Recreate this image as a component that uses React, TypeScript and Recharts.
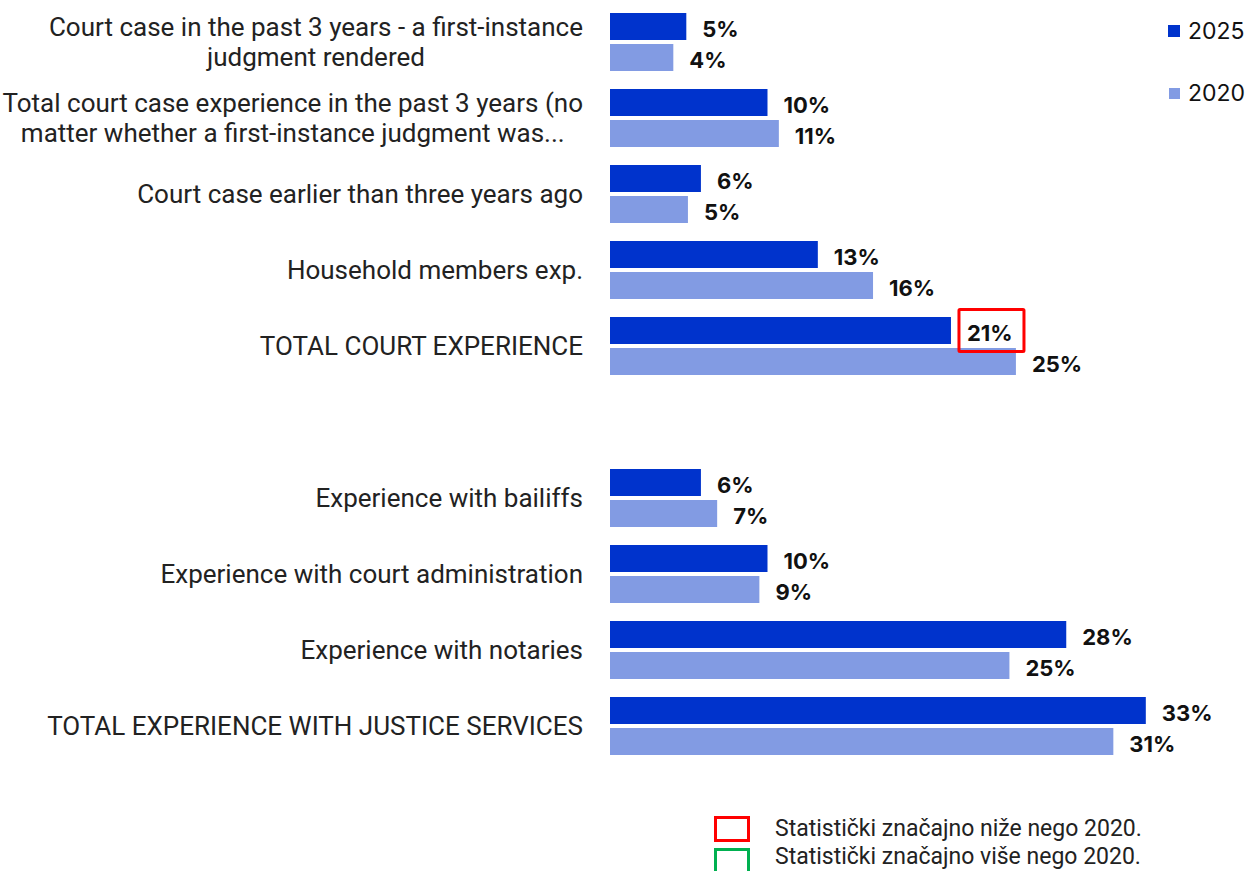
import React from "react";
import { BarChart, Bar, XAxis, YAxis, LabelList } from "recharts";

// ─── DATA ────────────────────────────────────────────────────────────────────

const categories = [
  "Court case in the past 3 years - a first-instance\njudgment rendered",
  "Total court case experience in the past 3 years (no\nmatter whether a first-instance judgment was...",
  "Court case earlier than three years ago",
  "Household members exp.",
  "TOTAL COURT EXPERIENCE",
  "",
  "Experience with bailiffs",
  "Experience with court administration",
  "Experience with notaries",
  "TOTAL EXPERIENCE WITH JUSTICE SERVICES",
];

const values2025 = [4.7, 9.7, 5.6, 12.8, 21.0, null, 5.6, 9.7, 28.1, 33.0];
const values2020 = [3.9, 10.4, 4.8, 16.2, 25.0, null, 6.6, 9.2, 24.6, 31.0];

const labels2025 = [5, 10, 6, 13, 21, null, 6, 10, 28, 33];
const labels2020 = [4, 11, 5, 16, 25, null, 7, 9, 25, 31];

// kategori 2025 yang signifikan lebih rendah dari 2020
const lower2025 = [false, false, false, false, true, false, false, false, false, false];

const COLOR_2025 = "#0033cc";
const COLOR_2020 = "#829be3";
const FONT = "Inter, Roboto, sans-serif";
const TICK_FONT = "Roboto, 'Noto Sans', sans-serif";
const TICK_FONT_SIZE = 26;

const data = categories.map((name, i) => ({
  name,
  v2025: values2025[i],
  v2020: values2020[i],
  l2025: labels2025[i] == null ? null : `${labels2025[i]}%${lower2025[i] ? "*" : ""}`,
  l2020: labels2020[i] == null ? null : `${labels2020[i]}%`,
}));

// ─── HELPERS ─────────────────────────────────────────────────────────────────

let ctx: CanvasRenderingContext2D | null = null;
function measure(text: string, font: string) {
  if (!ctx) ctx = document.createElement("canvas").getContext("2d");
  if (!ctx) return text.length * 10;
  ctx.font = font;
  return ctx.measureText(text).width;
}

function CategoryTick(props: any) {
  const { x, y, payload } = props;
  if (!payload.value) return null;
  const lines: string[] = String(payload.value).split("\n");
  if (lines.length === 1) {
    return (
      <text x={x} y={y} textAnchor="end" dominantBaseline="central" fill="#222" fontSize={TICK_FONT_SIZE} fontFamily={TICK_FONT}>
        {lines[0]}
      </text>
    );
  }
  const maxW = Math.max(...lines.map((l) => measure(l, `${TICK_FONT_SIZE}px Roboto`)));
  const cx = x - maxW / 2;
  const lh = 30;
  const startY = y - ((lines.length - 1) * lh) / 2;
  return (
    <text textAnchor="middle" fill="#222" fontSize={TICK_FONT_SIZE} fontFamily={TICK_FONT}>
      {lines.map((l, i) => (
        <tspan key={i} x={cx} y={startY + i * lh} dominantBaseline="central">
          {l}
        </tspan>
      ))}
    </text>
  );
}

function ValueLabel(props: any) {
  const { x, y, width, height, value } = props;
  if (value == null) return null;
  const txt = String(value);
  const low = txt.endsWith("*");
  const tx = x + width + 16;
  const cy = y + height / 2;
  return (
    <g>
      {low && (
        <rect x={x + width + 8} y={cy - 21} width={65} height={42} fill="none" stroke="#ff0000" strokeWidth={3} rx={1} />
      )}
      <text x={tx} y={cy + 2} dominantBaseline="central" fill="#111" fontSize={22} fontWeight={700} fontFamily={FONT}>
        {low ? txt.slice(0, -1) : txt}
      </text>
    </g>
  );
}

// ─── MAIN ────────────────────────────────────────────────────────────────────

export default function App() {
  return (
    <div style={{ position: "fixed", left: 0, top: 0, width: 1247, height: 871, background: "#fff", overflow: "hidden", fontFamily: FONT }}>
      <BarChart
        layout="vertical"
        width={1247}
        height={871}
        data={data}
        margin={{ top: 4, right: 20, bottom: 107, left: 10 }}
        barSize={27}
        barGap={4}
      >
        <XAxis type="number" hide domain={[0, 38]} />
        <YAxis
          type="category"
          dataKey="name"
          width={600}
          axisLine={false}
          tickLine={false}
          tickSize={0}
          tickMargin={27}
          interval={0}
          tick={<CategoryTick />}
        />
        <Bar dataKey="v2025" name="2025" fill={COLOR_2025} isAnimationActive={false}>
          <LabelList dataKey="l2025" content={<ValueLabel />} />
        </Bar>
        <Bar dataKey="v2020" name="2020" fill={COLOR_2020} isAnimationActive={false}>
          <LabelList dataKey="l2020" content={<ValueLabel />} />
        </Bar>
      </BarChart>

      {/* Legend kanan atas */}
      <div style={{ position: "absolute", left: 1168, top: 25, width: 12, height: 12, background: COLOR_2025 }} />
      <div style={{ position: "absolute", left: 1188, top: 16, fontSize: 23, lineHeight: "30px", color: "#111" }}>2025</div>
      <div style={{ position: "absolute", left: 1169, top: 88, width: 11, height: 11, background: COLOR_2020 }} />
      <div style={{ position: "absolute", left: 1188, top: 78, fontSize: 23, lineHeight: "30px", color: "#111" }}>2020</div>

      {/* Legend signifikansi */}
      <div style={{ position: "absolute", left: 714, top: 816, width: 30, height: 20, border: "3px solid #ff0000" }} />
      <div style={{ position: "absolute", left: 775, top: 814, fontFamily: TICK_FONT, fontSize: 23, lineHeight: "30px", color: "#222" }}>
        Statistički značajno niže nego 2020.
      </div>
      <div style={{ position: "absolute", left: 714, top: 848, width: 30, height: 20, border: "3px solid #00b050" }} />
      <div style={{ position: "absolute", left: 775, top: 842, fontFamily: TICK_FONT, fontSize: 23, lineHeight: "30px", color: "#222" }}>
        Statistički značajno više nego 2020.
      </div>
    </div>
  );
}
